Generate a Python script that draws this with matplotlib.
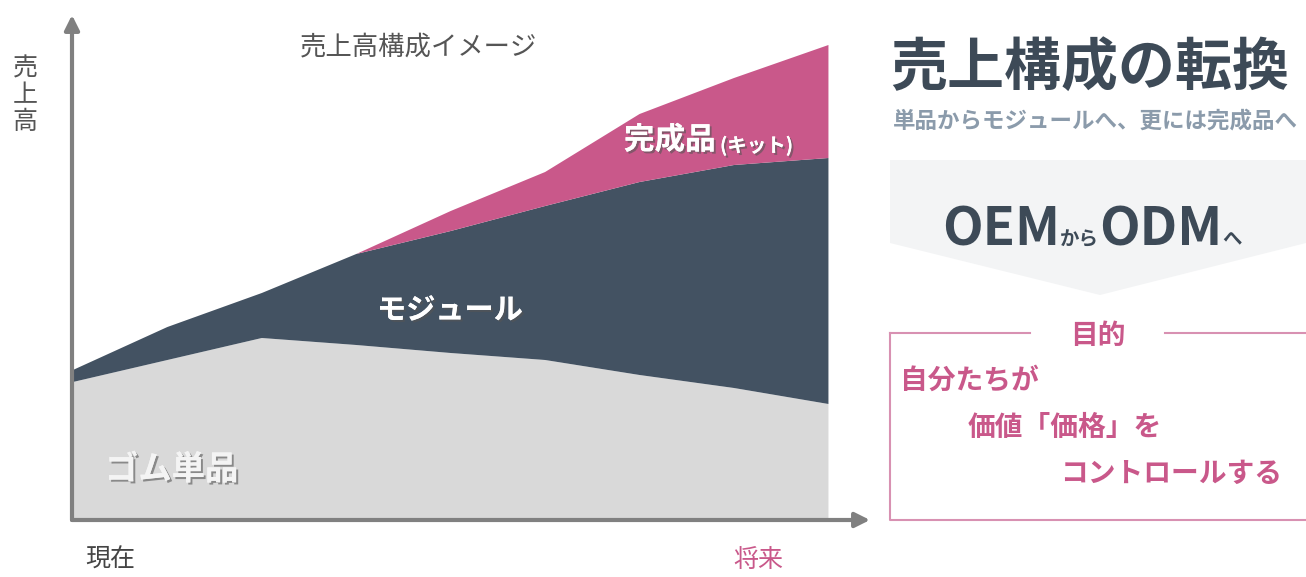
import matplotlib
matplotlib.use('Agg')
import matplotlib.pyplot as plt
import matplotlib.patheffects as pe
from matplotlib.patches import Polygon

plt.rcParams['font.family'] = ['Noto Sans CJK JP', 'DejaVu Sans']

# stacked sales image (arbitrary units), 9 steps from 現在 to 将来
steps = [0, 1, 2, 3, 4, 5, 6, 7, 8]
rubber = [138, 160, 182, 175, 167, 160, 145, 132, 116]
module = [12, 33, 45, 91, 122, 154, 193, 223, 246]
kit = [0, 0, 0, 0, 20, 34, 68, 87, 113]
layer_names = ['ゴム単品', 'モジュール', '完成品']

GRAY = '#d9d9d9'
DARK = '#435262'
PINK = '#c9588a'
W, H = 1306, 577

fig = plt.figure(figsize=(W / 100, H / 100), dpi=100)

# chart axes
ax = fig.add_axes([72 / W, (H - 520) / H, (870 - 72) / W, (520 - 15) / H])
ax.stackplot(steps, rubber, module, kit, colors=[GRAY, DARK, PINK],
             labels=layer_names, linewidth=0)
ax.set_xlim(-0.01, 8.44)
ax.set_ylim(0, 505)
ax.axis('off')

arrow = dict(arrowstyle='-|>', color='#808080', lw=3, mutation_scale=22,
             shrinkA=0, shrinkB=0)
ax.annotate('', xy=(0, 1), xytext=(0, 0), xycoords='axes fraction',
            arrowprops=arrow, annotation_clip=False)
ax.annotate('', xy=(1, 0), xytext=(0, 0), xycoords='axes fraction',
            arrowprops=arrow, annotation_clip=False)

# overlay axes in pixel coords for labels and the right-hand panel
ov = fig.add_axes([0, 0, 1, 1])
ov.set_xlim(0, W)
ov.set_ylim(H, 0)
ov.axis('off')
ov.set_zorder(5)

shadow = [pe.withSimplePatchShadow(offset=(1.5, -1.5), shadow_rgbFace='#555555', alpha=0.6),
          pe.Normal()]

ov.text(300, 47, '売上高構成イメージ', fontsize=19, color='#555555', va='center', ha='left')
ov.text(25, 95, '売\n上\n高', fontsize=18, color='#555555', va='center', ha='center',
        linespacing=1.05)
ov.text(85, 560, '現在', fontsize=18, color='#444444', va='center', ha='left')
ov.text(733, 560, '将来', fontsize=18, color=PINK, va='center', ha='left')

ov.text(105, 470, layer_names[0], fontsize=24, weight='bold', color='#f4f4f4',
        va='center', ha='left', path_effects=shadow)
ov.text(377, 310, layer_names[1], fontsize=21, weight='bold', color='white',
        va='center', ha='left', path_effects=shadow)
ov.text(624, 140, layer_names[2], fontsize=22, weight='bold', color='white',
        va='center', ha='left', path_effects=shadow)
ov.text(720, 146, '(キット)', fontsize=14, weight='bold', color='white',
        va='center', ha='left', path_effects=shadow)

# right panel
ov.text(890, 68, '売上構成の転換', fontsize=41, weight='bold', color='#3d4a57',
        va='center', ha='left')
ov.text(893, 121, '単品からモジュールへ、更には完成品へ', fontsize=16.2, weight='bold',
        color='#8b9bab', va='center', ha='left')

ov.add_patch(Polygon([(890, 160), (1306, 160), (1306, 243), (1100, 295), (890, 243)],
                     closed=True, facecolor='#f3f4f5', edgecolor='none', zorder=0))

renderer = fig.canvas.get_renderer()
x = 942
for s, size in [('OEM', 38), ('から', 14), ('ODM', 38), ('へ', 14)]:
    tt = ov.text(x, 245, s, fontsize=size, weight='bold', color='#3d4a57',
                 va='baseline', ha='left')
    x += tt.get_window_extent(renderer).width

BOX = '#d891b2'
ov.plot([890, 890, 1306], [333, 520, 520], color=BOX, lw=1.5)
ov.plot([890, 1030], [333, 333], color=BOX, lw=1.5)
ov.plot([1165, 1306], [333, 333], color=BOX, lw=1.5)
ov.text(1098, 336, '目的', fontsize=20, weight='bold', color=PINK, va='center', ha='center')
ov.text(900, 381, '自分たちが', fontsize=20, weight='bold', color=PINK, va='center', ha='left')
ov.text(968, 428, '価値「価格」を', fontsize=20, weight='bold', color=PINK, va='center', ha='left')
ov.text(1060, 474, 'コントロールする', fontsize=20, weight='bold', color=PINK, va='center', ha='left')

fig.savefig('out.png', dpi=100)
